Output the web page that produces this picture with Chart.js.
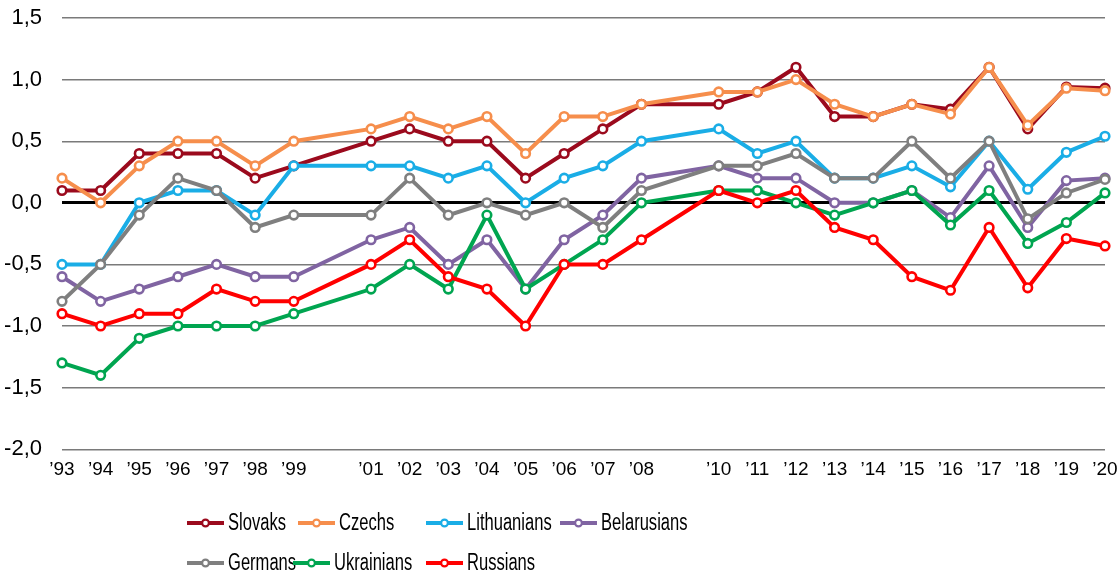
<!DOCTYPE html>
<html>
<head>
<meta charset="utf-8">
<script src="https://cdn.jsdelivr.net/npm/chart.js@4/dist/chart.umd.min.js"></script>
<style>
  html, body { margin: 0; padding: 0; background: #fff; }
  #wrap { width: 1118px; height: 578px; position: relative; }
</style>
</head>
<body>
<div id="wrap"><canvas id="chart"></canvas></div>
<script>
// ---- data (2000 and 2009 not surveyed) ----
const years = [1993, 1994, 1995, 1996, 1997, 1998, 1999, 2001, 2002, 2003, 2004, 2005, 2006, 2007, 2008,
  2010, 2011, 2012, 2013, 2014, 2015, 2016, 2017, 2018, 2019, 2020];
const yTicks = [-2.0, -1.5, -1.0, -0.5, 0, 0.5, 1.0, 1.5];

const slovaks     = [0.1, 0.1, 0.4, 0.4, 0.4, 0.2, 0.3, 0.5, 0.6, 0.5, 0.5, 0.2, 0.4, 0.6, 0.8, 0.8, 0.9, 1.1, 0.7, 0.7, 0.8, 0.76, 1.1, 0.6, 0.94, 0.93];
const czechs      = [0.2, 0.0, 0.3, 0.5, 0.5, 0.3, 0.5, 0.6, 0.7, 0.6, 0.7, 0.4, 0.7, 0.7, 0.8, 0.9, 0.9, 1.0, 0.8, 0.7, 0.8, 0.72, 1.1, 0.63, 0.93, 0.91];
const lithuanians = [-0.5, -0.5, 0.0, 0.1, 0.1, -0.1, 0.3, 0.3, 0.3, 0.2, 0.3, 0.0, 0.2, 0.3, 0.5, 0.6, 0.4, 0.5, 0.2, 0.2, 0.3, 0.13, 0.5, 0.11, 0.41, 0.54];
const belarusians = [-0.6, -0.8, -0.7, -0.6, -0.5, -0.6, -0.6, -0.3, -0.2, -0.5, -0.3, -0.7, -0.3, -0.1, 0.2, 0.3, 0.2, 0.2, 0.0, 0.0, 0.1, -0.12, 0.3, -0.2, 0.18, 0.2];
const germans     = [-0.8, -0.5, -0.1, 0.2, 0.1, -0.2, -0.1, -0.1, 0.2, -0.1, 0.0, -0.1, 0.0, -0.2, 0.1, 0.3, 0.3, 0.4, 0.2, 0.2, 0.5, 0.2, 0.5, -0.13, 0.08, 0.19];
const ukrainians  = [-1.3, -1.4, -1.1, -1.0, -1.0, -1.0, -0.9, -0.7, -0.5, -0.7, -0.1, -0.7, -0.5, -0.3, 0.0, 0.1, 0.1, 0.0, -0.1, 0.0, 0.1, -0.18, 0.1, -0.33, -0.16, 0.08];
const russians    = [-0.9, -1.0, -0.9, -0.9, -0.7, -0.8, -0.8, -0.5, -0.3, -0.6, -0.7, -1.0, -0.5, -0.5, -0.3, 0.1, 0.0, 0.1, -0.2, -0.3, -0.6, -0.71, -0.2, -0.69, -0.29, -0.35];

const seriesNames  = ['Slovaks', 'Czechs', 'Lithuanians', 'Belarusians', 'Germans', 'Ukrainians', 'Russians'];
const seriesValues = [slovaks, czechs, lithuanians, belarusians, germans, ukrainians, russians];
const seriesColors = ['#9b0a1d', '#f68e4c', '#1aade6', '#8064a2', '#7f7f7f', '#00a550', '#ff0000'];

const baseFont = '"Liberation Sans", Arial, sans-serif';

const datasets = seriesNames.map((name, i) => ({
  label: name,
  data: years.map((yr, j) => ({ x: yr, y: seriesValues[i][j] })),
  borderColor: seriesColors[i],
  backgroundColor: '#fff',
  borderWidth: 4,
  pointRadius: 4.3,
  pointBorderWidth: 2.6,
  pointBackgroundColor: '#fff',
  pointBorderColor: seriesColors[i],
  tension: 0,
  clip: false,
  order: seriesNames.length - i   // later series drawn on top, like the original
}));

// legend drawn by hand: two rows, columns like the source
const legendSlots = [
  { row: 0, x: 187 }, { row: 0, x: 298 }, { row: 0, x: 426 }, { row: 0, x: 560 },
  { row: 1, x: 187 }, { row: 1, x: 293 }, { row: 1, x: 426 }
];
const legendRowsY = [523, 563];

const legendPlugin = {
  id: 'handLegend',
  afterDraw(chart) {
    const ctx = chart.ctx;
    ctx.save();
    ctx.textBaseline = 'middle';
    seriesNames.forEach((name, i) => {
      const slot = legendSlots[i];
      const y = legendRowsY[slot.row];
      ctx.strokeStyle = seriesColors[i];
      ctx.lineWidth = 4;
      ctx.beginPath();
      ctx.moveTo(slot.x, y);
      ctx.lineTo(slot.x + 37, y);
      ctx.stroke();
      ctx.beginPath();
      ctx.arc(slot.x + 18.5, y, 3.4, 0, Math.PI * 2);
      ctx.fillStyle = '#fff';
      ctx.fill();
      ctx.lineWidth = 2.2;
      ctx.stroke();
      // source text is horizontally condensed
      ctx.save();
      ctx.translate(slot.x + 41, y + 1);
      ctx.scale(0.72, 1);
      ctx.font = '23px ' + baseFont;
      ctx.fillStyle = '#000';
      ctx.fillText(name, 0, 0);
      ctx.restore();
    });
    ctx.restore();
  }
};

new Chart(document.getElementById('chart'), {
  type: 'line',
  data: { datasets },
  plugins: [legendPlugin],
  options: {
    responsive: true,
    maintainAspectRatio: false,
    animation: false,
    layout: { padding: { top: 18, right: 13, left: 0, bottom: 96 } },
    plugins: { legend: { display: false }, tooltip: { enabled: false } },
    scales: {
      x: {
        type: 'linear',
        min: 1993,
        max: 2020,
        afterBuildTicks: scale => { scale.ticks = years.map(v => ({ value: v })); },
        afterFit: scale => { scale.paddingLeft = 0; scale.paddingRight = 0; },
        grid: { display: false },
        border: { display: false },
        ticks: {
          autoSkip: false,
          maxRotation: 0,
          padding: 1,
          color: '#000',
          font: { family: baseFont, size: 19 },
          callback: v => '\u2019' + String(v).slice(2)
        }
      },
      y: {
        min: -2,
        max: 1.5,
        afterBuildTicks: scale => { scale.ticks = yTicks.map(v => ({ value: v })); },
        afterFit: scale => { scale.width = 62; scale.paddingTop = 0; scale.paddingBottom = 0; },
        border: { display: false },
        grid: {
          drawTicks: false,
          color: c => (c.tick && c.tick.value === 0) ? '#000' : '#7a7a7a',
          lineWidth: c => (c.tick && c.tick.value === 0) ? 3 : 1.4
        },
        ticks: {
          padding: 20,
          color: '#000',
          font: { family: baseFont, size: 22 },
          callback: v => (v < 0 ? '-' : '') + Math.abs(v).toFixed(1).replace('.', ',')
        }
      }
    }
  }
});
</script>
</body>
</html>
